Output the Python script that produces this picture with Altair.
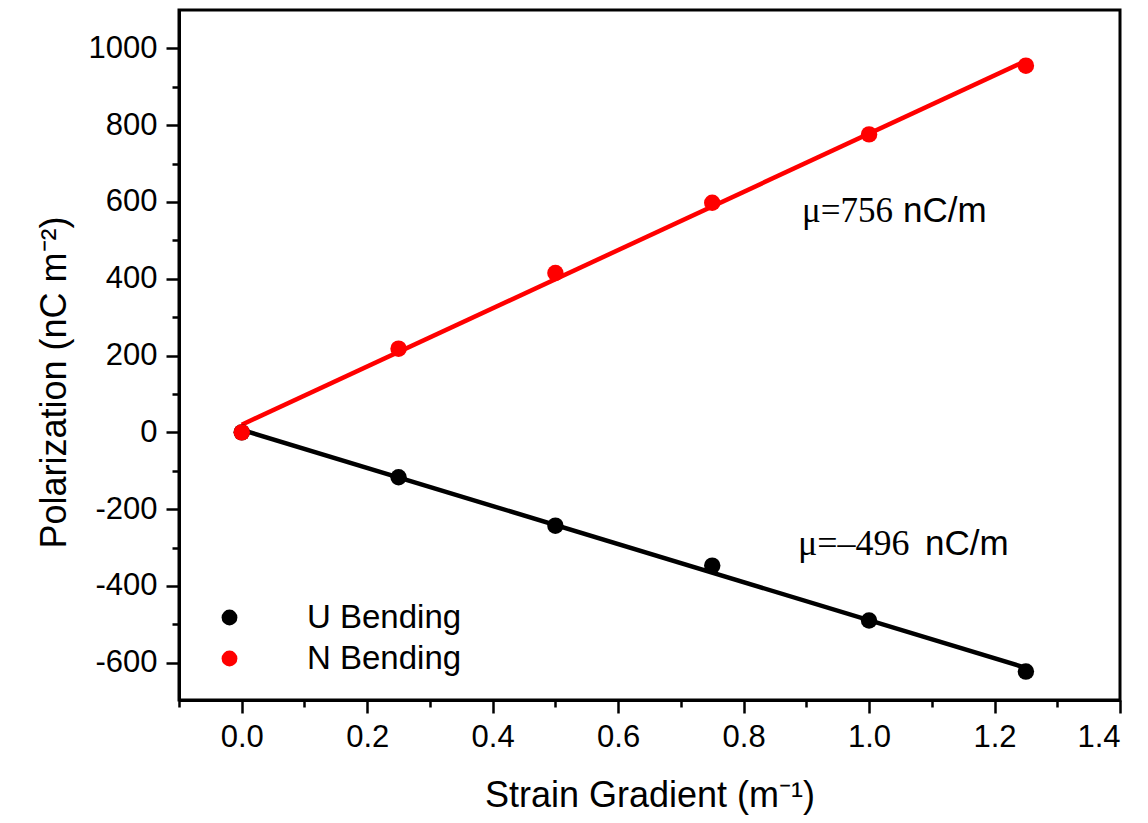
import altair as alt
import pandas as pd

# ---- data ----
strain = [0.0, 0.25, 0.5, 0.75, 1.0, 1.25]
u_bending = [0, -117, -243, -347, -490, -623]
n_bending = [0, 218, 415, 598, 776, 955]
series_names = ["U Bending", "N Bending"]
series_colors = ["#000000", "#ff0000"]

x_ticks = [-0.1, 0.0, 0.1, 0.2, 0.3, 0.4, 0.5, 0.6, 0.7, 0.8, 0.9, 1.0, 1.1, 1.2, 1.3, 1.4]
y_ticks = [-600, -500, -400, -300, -200, -100, 0, 100, 200, 300, 400, 500, 600, 700, 800, 900, 1000]

df = pd.DataFrame({
    "x": strain + strain,
    "y": u_bending + n_bending,
    "series": [series_names[0]] * len(strain) + [series_names[1]] * len(strain),
})

SANS = "Liberation Sans"
SERIF = "Liberation Serif"

color = alt.Color(
    "series:N",
    scale=alt.Scale(domain=series_names, range=series_colors),
    legend=alt.Legend(
        title=None, orient="none", legendX=34, legendY=591,
        labelFont=SANS, labelFontSize=33, labelColor="black",
        symbolType="circle", symbolSize=250, symbolStrokeWidth=0,
        labelOffset=61, rowPadding=7, padding=0, fillColor=None,
    ),
)

x_enc = alt.X(
    "x:Q",
    scale=alt.Scale(domain=[-0.1, 1.4], nice=False, zero=False),
    axis=alt.Axis(
        title="Strain Gradient (m\u207b\u00b9)",
        values=x_ticks,
        labelExpr="abs(round(datum.value*10)) % 2 == 0 ? format(datum.value, '.1f') : ''",
        tickSize={"condition": {"test": "abs(round(datum.value*10)) % 2 == 1", "value": 7}, "value": 13},
        grid=False,
    ),
)
y_enc = alt.Y(
    "y:Q",
    scale=alt.Scale(domain=[-697, 1100], nice=False, zero=False),
    axis=alt.Axis(
        title="Polarization (nC m\u207b\u00b2)",
        values=y_ticks,
        labelExpr="datum.value % 200 == 0 ? '' + datum.value : ''",
        tickSize={"condition": {"test": "datum.value % 200 != 0", "value": 7}, "value": 13},
        grid=False,
        titleY=372,
    ),
)

base = alt.Chart(df)

lines = base.transform_regression(
    "x", "y", groupby=["series"], method="linear", extent=[0, 1.25]
).mark_line(strokeWidth=4.5, clip=True).encode(
    x=x_enc, y=y_enc, color=color,
)

points = base.mark_point(filled=True, size=270, opacity=1, shape="circle").encode(
    x=x_enc, y=y_enc, color=color,
    order=alt.Order("series:N", sort="descending"),
)

def label(text, x, y, font, size):
    return alt.Chart(df).mark_text(
        text=text, x=x, y=y, font=font, fontSize=size, align="left",
        baseline="alphabetic", color="black",
    ).encode(opacity=alt.value(1)).transform_filter("datum.x == 0 && datum.series == 'U Bending'")

annos = [
    label("\u03bc=756", 623, 212, SERIF, 35),
    label("nC/m", 724, 212, SANS, 35),
    label("\u03bc=\u2013496", 619, 545, SERIF, 36),
    label("nC/m", 746, 545, SANS, 35),
]

chart = alt.layer(lines, points, *annos).properties(
    width=941, height=690,
    autosize=alt.AutoSizeParams(type="none"),
    padding={"left": 179, "top": 10, "right": 28, "bottom": 123},
    background="white",
).configure_view(
    stroke="black", strokeWidth=3,
).configure_axis(
    domainColor="black", domainWidth=3, tickColor="black", tickWidth=2.5,
    labelFont=SANS, labelFontSize=31, labelColor="black", labelPadding=9,
    titleFont=SANS, titleFontSize=36, titleColor="black", titleFontWeight="normal",
).configure_axisX(
    titlePadding=26,
).configure_axisY(
    titlePadding=15,
)

chart.save("out.html", embed_options={"renderer": "svg", "actions": False})
